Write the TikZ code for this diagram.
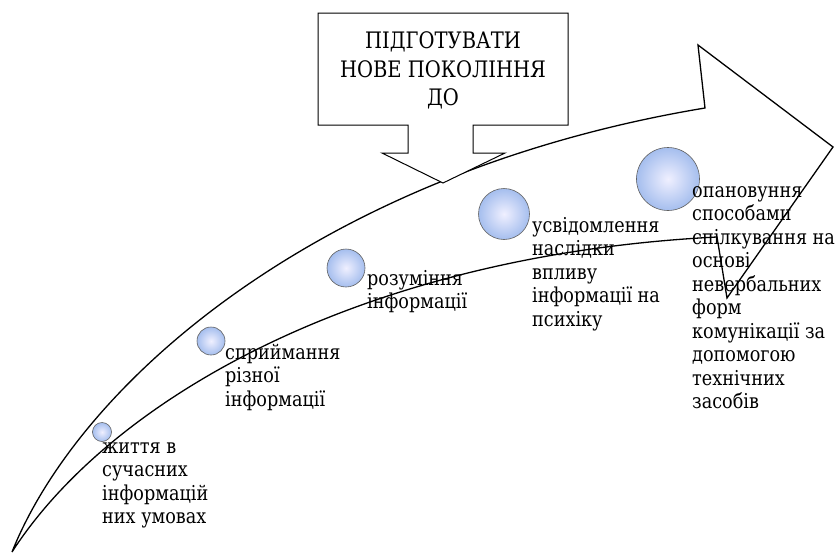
\documentclass[tikz,border=0pt]{standalone}
\usepackage{fontspec}
\setmainfont{DejaVu Serif}[FakeStretch=0.86]
\begin{document}
\begin{tikzpicture}[x=1pt,y=-1pt,
  outline/.style={draw=black, line width=1.3pt, line join=miter},
  lbl/.style={anchor=north west, inner sep=0pt, align=left, font=\fontsize{20.5}{23.5}\selectfont},
  bubble/.style={circle, draw=gray!75!black, line width=0.6pt, inner sep=0pt,
                 inner color=blue!6!white, outer color={rgb,255:red,165;green,190;blue,238}},
  calltext/.style={anchor=north, inner sep=0pt, align=center, font=\fontsize{22.7}{28.5}\selectfont}]
\fill[white] (0,0) rectangle (835,554);
\useasboundingbox (0,0) rectangle (835,554);
% big curved arrow
\draw[outline] (12,552) .. controls (80,382) and (320,172) .. (705,108) -- (698,45) -- (833,147)
  -- (727,298) -- (717,237) .. controls (360,255) and (110,400) .. (12,552) -- cycle;
% callout
\draw[outline, fill=white, line width=1pt] (318,13) -- (568,13) -- (568,125) -- (473,125) -- (473,153) -- (505,153)
  -- (443,183) -- (382,153) -- (408,153) -- (408,125) -- (318,125) -- cycle;
\node[calltext] (title) at (443,28.5) {\strut ПІДГОТУВАТИ\\НОВЕ ПОКОЛІННЯ\\ДО};
% bubbles
\node[bubble, minimum size=19pt] (c1) at (102,432) {};
\node[bubble, minimum size=28pt] (c2) at (211,341) {};
\node[bubble, minimum size=38pt] (c3) at (346,268) {};
\node[bubble, minimum size=51pt] (c4) at (504,214) {};
\node[bubble, minimum size=63pt] (c5) at (668,179) {};
% labels
\node[lbl] (l1) at (102,436.5) {\strut життя в\\сучасних\\інформацій\\них умовах};
\node[lbl] (l2) at (225,342.5) {\strut сприймання\\різної\\інформації};
\node[lbl] (l3) at (367,268.5) {\strut розуміння\\інформації};
\node[lbl] (l4) at (532,215.5) {\strut усвідомлення\\наслідки\\впливу\\інформації на\\психіку};
\node[lbl] (l5) at (692,180.5) {\strut опановуння\\способами\\спілкування на\\основі\\невербальних\\форм\\комунікації за\\допомогою\\технічних\\засобів};
\end{tikzpicture}
\end{document}
